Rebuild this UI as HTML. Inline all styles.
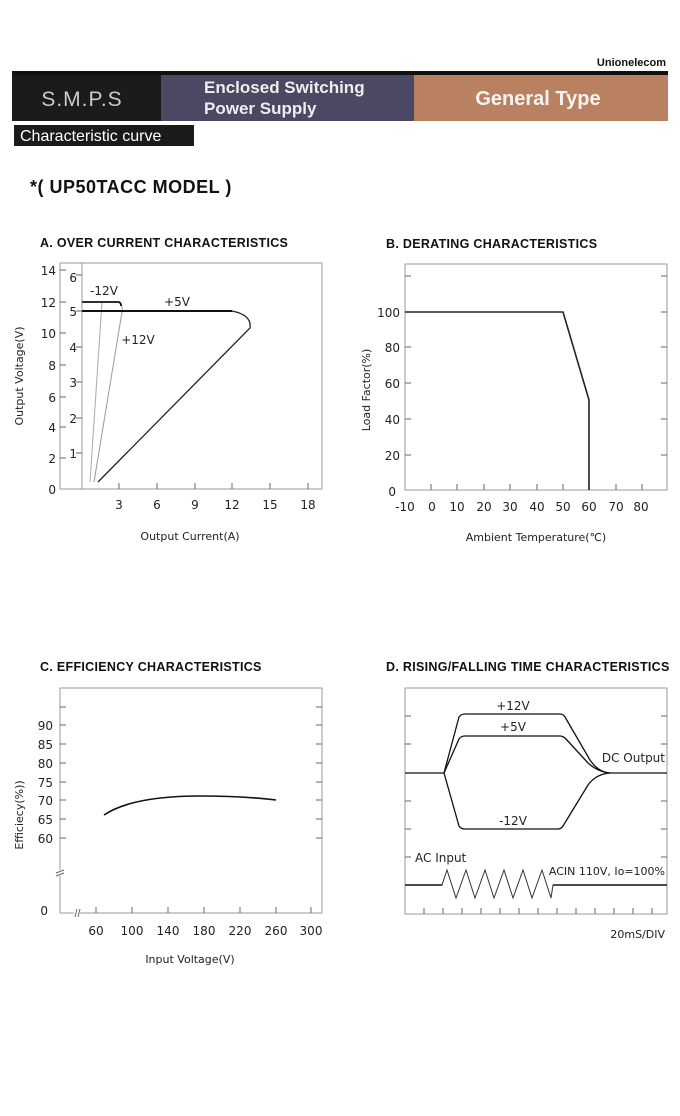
<!DOCTYPE html>
<html><head><meta charset="utf-8"><style>
html,body{margin:0;padding:0;background:#fff;}
svg{display:block;font-family:"DejaVu Sans","Liberation Sans",sans-serif;}
</style></head><body>
<svg width="680" height="1116" viewBox="0 0 680 1116" xmlns="http://www.w3.org/2000/svg">
<rect width="680" height="1116" fill="#fff"/>
<!-- header -->
<text x="666" y="66" font-size="11" font-weight="bold" text-anchor="end" fill="#111" font-family="Liberation Sans">Unionelecom</text>
<rect x="12" y="71" width="656" height="5" fill="#111"/>
<rect x="12" y="75" width="150" height="46" fill="#1c1a1a"/>
<rect x="161" y="75" width="253" height="46" fill="#4a4862"/>
<rect x="414" y="75" width="254" height="46" fill="#b98160"/>
<text x="82" y="106" font-size="21" fill="#ccc" text-anchor="middle" font-family="Liberation Sans" letter-spacing="1">S.M.P.S</text>
<text x="204" y="93" font-size="17" font-weight="bold" fill="#eee" font-family="Liberation Sans">Enclosed Switching</text>
<text x="204" y="114" font-size="17" font-weight="bold" fill="#eee" font-family="Liberation Sans">Power Supply</text>
<text x="538" y="105" font-size="20" font-weight="bold" fill="#f4f4f4" text-anchor="middle" font-family="Liberation Sans">General Type</text>
<rect x="14" y="125" width="180" height="21" fill="#1a1a1a"/>
<text x="20" y="141" font-size="16" fill="#fff" font-family="Liberation Sans">Characteristic curve</text>
<text x="30" y="193" font-size="18" font-weight="bold" fill="#111" font-family="Liberation Sans" letter-spacing="0.5">*( UP50TACC MODEL )</text>

<g font-family="Liberation Sans" font-weight="bold" font-size="12.5" fill="#111" letter-spacing="0.3">
<text x="40" y="247">A. OVER CURRENT CHARACTERISTICS</text>
<text x="386" y="248">B. DERATING CHARACTERISTICS</text>
<text x="40" y="671">C. EFFICIENCY CHARACTERISTICS</text>
<text x="386" y="671">D. RISING/FALLING TIME CHARACTERISTICS</text>
</g>

<!-- Chart A -->
<g stroke="#999" fill="none" stroke-width="1">
<rect x="60" y="263" width="262" height="226"/>
<line x1="82" y1="263" x2="82" y2="489"/>
</g>
<g stroke="#666" stroke-width="1">
<line x1="60" y1="270" x2="66" y2="270"/><line x1="60" y1="302" x2="66" y2="302"/><line x1="60" y1="333" x2="66" y2="333"/><line x1="60" y1="365" x2="66" y2="365"/><line x1="60" y1="397" x2="66" y2="397"/><line x1="60" y1="427" x2="66" y2="427"/><line x1="60" y1="458" x2="66" y2="458"/>
<line x1="76" y1="275" x2="82" y2="275"/><line x1="76" y1="311" x2="82" y2="311"/><line x1="76" y1="347" x2="82" y2="347"/><line x1="76" y1="382" x2="82" y2="382"/><line x1="76" y1="418" x2="82" y2="418"/><line x1="76" y1="453" x2="82" y2="453"/>
<line x1="119" y1="483" x2="119" y2="489"/><line x1="157" y1="483" x2="157" y2="489"/><line x1="195" y1="483" x2="195" y2="489"/><line x1="232" y1="483" x2="232" y2="489"/><line x1="270" y1="483" x2="270" y2="489"/><line x1="308" y1="483" x2="308" y2="489"/>
</g>
<g font-size="12" fill="#222" text-anchor="end">
<text x="56" y="275">14</text><text x="56" y="307">12</text><text x="56" y="338">10</text><text x="56" y="370">8</text><text x="56" y="402">6</text><text x="56" y="432">4</text><text x="56" y="463">2</text><text x="56" y="494">0</text>
<text x="77" y="282">6</text><text x="77" y="316">5</text><text x="77" y="352">4</text><text x="77" y="387">3</text><text x="77" y="423">2</text><text x="77" y="458">1</text>
</g>
<g font-size="12" fill="#222" text-anchor="middle">
<text x="119" y="509">3</text><text x="157" y="509">6</text><text x="195" y="509">9</text><text x="232" y="509">12</text><text x="270" y="509">15</text><text x="308" y="509">18</text>
<text x="190" y="540" font-size="11">Output Current(A)</text>
<text x="104" y="295">-12V</text><text x="177" y="306">+5V</text><text x="138" y="344">+12V</text>
</g>
<text transform="translate(23,376) rotate(-90)" font-size="11" fill="#222" text-anchor="middle">Output Voltage(V)</text>
<g fill="none">
<path d="M102,302 L90,482" stroke="#aaa" stroke-width="1"/>
<path d="M82,302 L118,302 Q123,303 122,312 L94,482" stroke="#999" stroke-width="1"/>
<path d="M82,302 L118,302 Q121,302 121,306" stroke="#111" stroke-width="1.8"/>
<path d="M82,311 L232,311 Q252,315 250,328 L98,482" stroke="#222" stroke-width="1.3"/>
<path d="M82,311 L232,311" stroke="#111" stroke-width="2"/>
</g>

<!-- Chart B -->
<rect x="405" y="264" width="262" height="226" fill="none" stroke="#999"/>
<g stroke="#666">
<line x1="405" y1="276" x2="411" y2="276"/><line x1="661" y1="276" x2="667" y2="276"/>
<line x1="405" y1="312" x2="411" y2="312"/><line x1="661" y1="312" x2="667" y2="312"/>
<line x1="405" y1="347" x2="411" y2="347"/><line x1="661" y1="347" x2="667" y2="347"/>
<line x1="405" y1="383" x2="411" y2="383"/><line x1="661" y1="383" x2="667" y2="383"/>
<line x1="405" y1="419" x2="411" y2="419"/><line x1="661" y1="419" x2="667" y2="419"/>
<line x1="405" y1="455" x2="411" y2="455"/><line x1="661" y1="455" x2="667" y2="455"/>
<line x1="431" y1="484" x2="431" y2="490"/><line x1="457" y1="484" x2="457" y2="490"/><line x1="484" y1="484" x2="484" y2="490"/><line x1="510" y1="484" x2="510" y2="490"/><line x1="537" y1="484" x2="537" y2="490"/><line x1="563" y1="484" x2="563" y2="490"/><line x1="616" y1="484" x2="616" y2="490"/><line x1="642" y1="484" x2="642" y2="490"/>
</g>
<g font-size="12" fill="#222" text-anchor="end">
<text x="400" y="317">100</text><text x="400" y="352">80</text><text x="400" y="388">60</text><text x="400" y="424">40</text><text x="400" y="460">20</text><text x="396" y="496">0</text>
</g>
<g font-size="12" fill="#222" text-anchor="middle">
<text x="405" y="511">-10</text><text x="432" y="511">0</text><text x="457" y="511">10</text><text x="484" y="511">20</text><text x="510" y="511">30</text><text x="537" y="511">40</text><text x="563" y="511">50</text><text x="589" y="511">60</text><text x="616" y="511">70</text><text x="641" y="511">80</text>
<text x="536" y="541" font-size="11">Ambient Temperature(℃)</text>
</g>
<text transform="translate(370,390) rotate(-90)" font-size="11" fill="#222" text-anchor="middle">Load Factor(%)</text>
<path d="M405,312 L563,312 L589,400 L589,490" fill="none" stroke="#222" stroke-width="1.6"/>

<!-- Chart C -->
<rect x="60" y="688" width="262" height="225" fill="none" stroke="#999"/>
<g stroke="#666">
<line x1="60" y1="707" x2="66" y2="707"/><line x1="316" y1="707" x2="322" y2="707"/>
<line x1="60" y1="725" x2="66" y2="725"/><line x1="316" y1="725" x2="322" y2="725"/>
<line x1="60" y1="744" x2="66" y2="744"/><line x1="316" y1="744" x2="322" y2="744"/>
<line x1="60" y1="763" x2="66" y2="763"/><line x1="316" y1="763" x2="322" y2="763"/>
<line x1="60" y1="782" x2="66" y2="782"/><line x1="316" y1="782" x2="322" y2="782"/>
<line x1="60" y1="800" x2="66" y2="800"/><line x1="316" y1="800" x2="322" y2="800"/>
<line x1="60" y1="819" x2="66" y2="819"/><line x1="316" y1="819" x2="322" y2="819"/>
<line x1="60" y1="838" x2="66" y2="838"/><line x1="316" y1="838" x2="322" y2="838"/>
<line x1="96" y1="907" x2="96" y2="913"/><line x1="132" y1="907" x2="132" y2="913"/><line x1="168" y1="907" x2="168" y2="913"/><line x1="204" y1="907" x2="204" y2="913"/><line x1="240" y1="907" x2="240" y2="913"/><line x1="276" y1="907" x2="276" y2="913"/><line x1="311" y1="907" x2="311" y2="913"/>
</g>
<rect x="56" y="870" width="8" height="6" fill="#fff"/>
<path d="M56,873 l8,-3 M56,876 l8,-3" stroke="#666"/>
<rect x="74" y="909" width="6" height="8" fill="#fff"/>
<path d="M75,917 l2,-8 M78,917 l2,-8" stroke="#666"/>
<g font-size="12" fill="#222" text-anchor="end">
<text x="53" y="730">90</text><text x="53" y="749">85</text><text x="53" y="768">80</text><text x="53" y="787">75</text><text x="53" y="805">70</text><text x="53" y="824">65</text><text x="53" y="843">60</text><text x="48" y="915">0</text>
</g>
<g font-size="12" fill="#222" text-anchor="middle">
<text x="96" y="935">60</text><text x="132" y="935">100</text><text x="168" y="935">140</text><text x="204" y="935">180</text><text x="240" y="935">220</text><text x="276" y="935">260</text><text x="311" y="935">300</text>
<text x="190" y="963" font-size="11">Input Voltage(V)</text>
</g>
<text transform="translate(23,815) rotate(-90)" font-size="11" fill="#222" text-anchor="middle">Efficiecy(%))</text>
<path d="M104,815 C125,801 160,796 200,796 C235,796 260,798 276,800" fill="none" stroke="#111" stroke-width="1.6"/>

<!-- Chart D -->
<rect x="405" y="688" width="262" height="226" fill="none" stroke="#999"/>
<g stroke="#666">
<line x1="405" y1="716" x2="411" y2="716"/><line x1="661" y1="716" x2="667" y2="716"/>
<line x1="405" y1="744" x2="411" y2="744"/><line x1="661" y1="744" x2="667" y2="744"/>
<line x1="405" y1="801" x2="411" y2="801"/><line x1="661" y1="801" x2="667" y2="801"/>
<line x1="405" y1="829" x2="411" y2="829"/><line x1="661" y1="829" x2="667" y2="829"/>
<line x1="405" y1="857" x2="411" y2="857"/><line x1="661" y1="857" x2="667" y2="857"/>
<line x1="424" y1="908" x2="424" y2="914"/><line x1="443" y1="908" x2="443" y2="914"/><line x1="462" y1="908" x2="462" y2="914"/><line x1="481" y1="908" x2="481" y2="914"/><line x1="500" y1="908" x2="500" y2="914"/><line x1="519" y1="908" x2="519" y2="914"/><line x1="538" y1="908" x2="538" y2="914"/><line x1="557" y1="908" x2="557" y2="914"/><line x1="576" y1="908" x2="576" y2="914"/><line x1="595" y1="908" x2="595" y2="914"/><line x1="614" y1="908" x2="614" y2="914"/><line x1="633" y1="908" x2="633" y2="914"/><line x1="652" y1="908" x2="652" y2="914"/>
</g>
<g fill="none" stroke="#111" stroke-width="1.3">
<path d="M405,773 L444,773 L459,717 Q461,714 465,714 L560,714 Q563,714 565,717 L590,760 Q598,772 610,773 L667,773"/>
<path d="M444,773 L459,739 Q461,736 465,736 L560,736 Q563,736 566,739 L588,763 Q598,772 610,773"/>
<path d="M444,773 L459,826 Q461,829 465,829 L558,829 Q561,829 563,826 L588,785 Q596,774 610,773"/>
</g>
<path d="M405,885 L442,885 L447,870 L456,898 L466,870 L475,898 L485,870 L494,898 L504,870 L513,898 L523,870 L532,898 L542,870 L551,898 L553,885 L667,885" fill="none" stroke="#333" stroke-width="1"/>
<path d="M405,885 L442,885 M553,885 L667,885" stroke="#111" stroke-width="1.6"/>
<g font-size="12" fill="#222">
<text x="513" y="710" text-anchor="middle">+12V</text>
<text x="513" y="731" text-anchor="middle">+5V</text>
<text x="513" y="825" text-anchor="middle">-12V</text>
<text x="665" y="762" text-anchor="end">DC Output</text>
<text x="415" y="862">AC Input</text>
<text x="665" y="875" text-anchor="end" font-size="11">ACIN 110V, Io=100%</text>
<text x="665" y="938" text-anchor="end" font-size="11">20mS/DIV</text>
</g>
</svg>
</body></html>
